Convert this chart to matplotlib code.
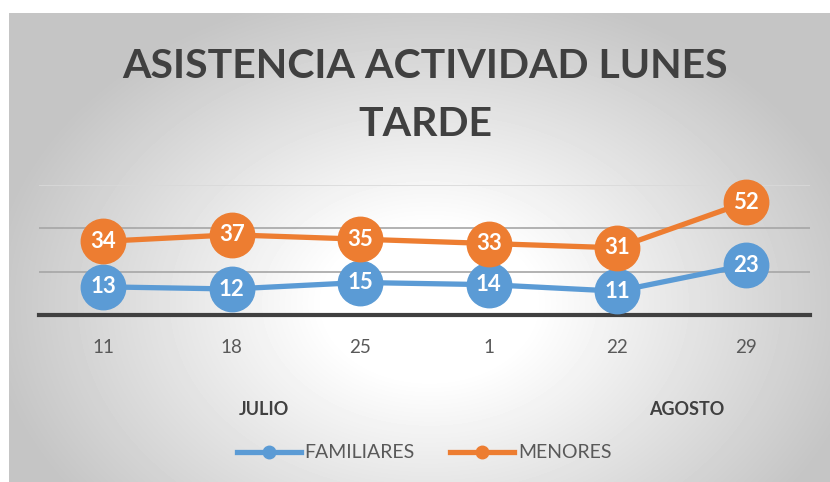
import numpy as np
import matplotlib
matplotlib.use("Agg")
import matplotlib.pyplot as plt

fechas = ["11", "18", "25", "1", "22", "29"]
meses = ["JULIO", "AGOSTO"]
familiares = [13, 12, 15, 14, 11, 23]
menores = [34, 37, 35, 33, 31, 52]

AZUL = "#5B9BD5"
NARANJA = "#ED7D31"
GRIS = "#595959"
OSCURO = "#404040"
FUENTE = ["Lato", "DejaVu Sans"]

fig = plt.figure(figsize=(8.3, 4.82), dpi=100)

# radial gradient background (excel style)
bg = fig.add_axes([9 / 830, 0, 821 / 830, 469 / 482], zorder=-10)
yy, xx = np.mgrid[0:469, 0:821]
d = np.sqrt(((xx - 420) / 520.0) ** 2 + ((yy - 290) / 380.0) ** 2)
val = np.clip(1.0 - 0.30 * np.clip(d - 0.2, 0, None) / 0.85, 0.77, 1.0)
bg.imshow(val, cmap="gray", vmin=0, vmax=1, aspect="auto", interpolation="bilinear")
bg.axis("off")

ax = fig.add_axes([39 / 830, 1 - 315 / 482, 771 / 830, 130 / 482])
ax.patch.set_alpha(0)
x = np.arange(len(fechas))

for v in [20, 40]:
    ax.axhline(v, color="#a6a6a6", lw=1.2, zorder=1)
ax.axhline(60, color="#d9d9d9", lw=1.2, zorder=1)

ax.plot(x, familiares, color=AZUL, lw=3.8, marker="o", ms=32, zorder=3, clip_on=False)
ax.plot(x, menores, color=NARANJA, lw=3.8, marker="o", ms=32, zorder=3, clip_on=False)
for xi, v in zip(x, familiares):
    ax.text(xi, v, str(v), color="white", fontsize=16, fontweight="bold",
            ha="center", va="center", zorder=4, family=FUENTE)
for xi, v in zip(x, menores):
    ax.text(xi, v, str(v), color="white", fontsize=16, fontweight="bold",
            ha="center", va="center", zorder=4, family=FUENTE)

ax.axhline(0, color=OSCURO, lw=3.0, zorder=2, clip_on=False)
ax.set_xlim(-0.5, len(fechas) - 0.5)
ax.set_ylim(0, 60)
ax.set_yticks([])
ax.set_xticks(x)
ax.set_xticklabels(fechas, color=GRIS, fontsize=13.5, family=FUENTE)
ax.tick_params(axis="x", length=0, pad=17)
for s in ax.spines.values():
    s.set_visible(False)

# month group labels
for m, pos in zip(meses, [1.25, 4.54]):
    ax.text(pos, -0.73, m, transform=ax.get_xaxis_transform(), ha="center", va="center",
            fontsize=13, fontweight="bold", color=OSCURO, family=FUENTE)

fig.text(0.512, 1 - 66 / 482, "ASISTENCIA ACTIVIDAD LUNES", ha="center", va="center",
         fontsize=29.5, fontweight="bold", color=OSCURO, family=FUENTE)
fig.text(0.512, 1 - 125 / 482, "TARDE", ha="center", va="center",
         fontsize=29.5, fontweight="bold", color=OSCURO, family=FUENTE)

h1, = ax.plot([], [], color=AZUL, lw=3.8, marker="o", ms=9, label="FAMILIARES")
h2, = ax.plot([], [], color=NARANJA, lw=3.8, marker="o", ms=9, label="MENORES")
leg = fig.legend(handles=[h1, h2], loc="center", bbox_to_anchor=(424 / 830, 1 - 453 / 482),
                 ncol=2, frameon=False, handlelength=3.3, columnspacing=1.8,
                 handletextpad=0.2, prop={"family": FUENTE, "size": 14})
for t in leg.get_texts():
    t.set_color(GRIS)

fig.savefig("out.png", dpi=100)
